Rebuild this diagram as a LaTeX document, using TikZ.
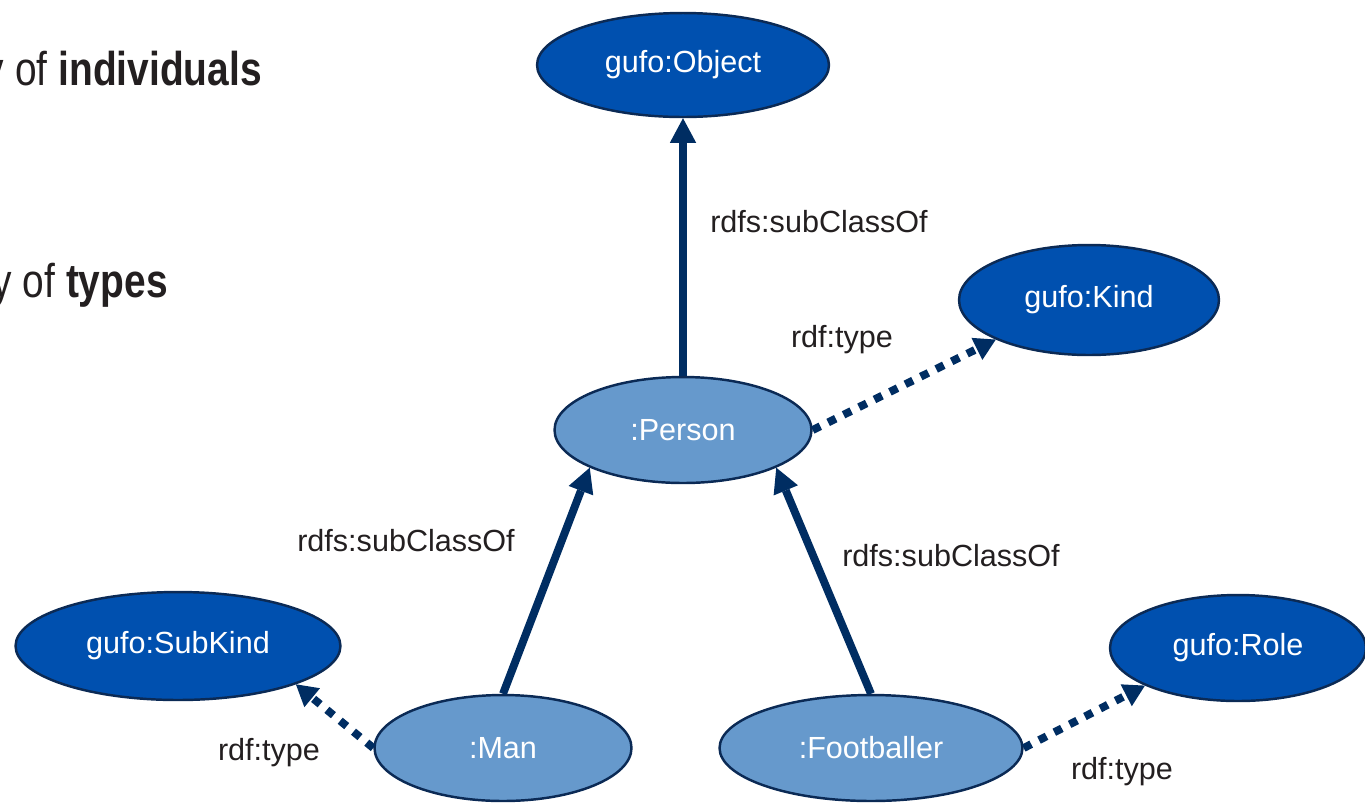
\documentclass[tikz,border=0pt]{standalone}
\usepackage{fontspec}
\setmainfont{Liberation Sans}
\newfontfamily\narrowfont[FakeStretch=0.82]{Liberation Sans}
\usetikzlibrary{arrows.meta,shapes.geometric}

\definecolor{kindblue}{HTML}{0050AF}
\definecolor{typeblue}{HTML}{6699CC}
\definecolor{edgenavy}{HTML}{0B2A55}
\definecolor{arrownavy}{HTML}{002D62}
\definecolor{textgray}{HTML}{231F20}

\tikzset{
	gufo/.style = {ellipse, draw=edgenavy, line width=1.4pt, fill=kindblue, text=white, inner sep=0pt, font=\fontsize{17.4}{20}\selectfont},
	usertype/.style = {gufo, fill=typeblue},
	subclass/.style = {draw=arrownavy, line width=4.5pt, -{Triangle[length=14pt,width=15pt,line width=0pt]}},
	instof/.style = {draw=arrownavy, line width=4.5pt, dash pattern=on 4.8pt off 5pt, -{Triangle[length=12pt,width=14pt,line width=0pt]}},
	rel/.style = {text=textgray, inner sep=0pt, anchor=base, font=\fontsize{17.4}{20}\selectfont},
	heading/.style = {text=textgray, inner sep=0pt, anchor=base east, font=\narrowfont\fontsize{27}{30}\selectfont}
}

\begin{document}
\begin{tikzpicture}[x=0.02cm, y=-0.02cm]
	\useasboundingbox (0, 0) rectangle (1365, 802);

	\node[heading] (individuals) at (262, 85) {y of \textbf{individuals}};
	\node[heading] (types) at (168, 297) {y of \textbf{types}};
	%%%%%%%%%
	\node[gufo, minimum width=5.84cm, minimum height=2.08cm] (object) at (683, 65) {gufo:Object};
	\node[gufo, minimum width=5.2cm, minimum height=2.2cm] (kind) at (1089, 300) {gufo:Kind};
	\node[gufo, minimum width=6.5cm, minimum height=2.16cm] (subkind) at (178, 646) {gufo:SubKind};
	\node[gufo, minimum width=5.12cm, minimum height=2.12cm] (role) at (1238, 648) {gufo:Role};
	%%%%%%%%%
	\node[usertype, minimum width=5.14cm, minimum height=2.12cm] (person) at (683, 430) {:Person};
	\node[usertype, minimum width=5.14cm, minimum height=2.12cm] (man) at (503, 748) {:Man};
	\node[usertype, minimum width=6.06cm, minimum height=2.12cm] (footballer) at (871, 748) {:Footballer};
	%%%%%%%%%
	\draw[subclass] (person.north) -- (object.south);
	\draw[subclass] (man.north) -- (person.-158);
	\draw[subclass] (footballer.north) -- (person.-22);
	\draw[instof] (person.east) -- (kind.-157);
	\draw[instof] (man.west) -- (subkind.-18);
	\draw[instof] (footballer.east) -- (role.-158);
	%%%%%%%%%
	\node[rel] (personsub) at (819, 232) {rdfs:subClassOf};
	\node[rel] (persontype) at (842, 347) {rdf:type};
	\node[rel] (mansub) at (406, 551) {rdfs:subClassOf};
	\node[rel] (footballersub) at (951, 566) {rdfs:subClassOf};
	\node[rel] (mantype) at (269, 760) {rdf:type};
	\node[rel] (footballertype) at (1122, 779) {rdf:type};
\end{tikzpicture}
\end{document}
